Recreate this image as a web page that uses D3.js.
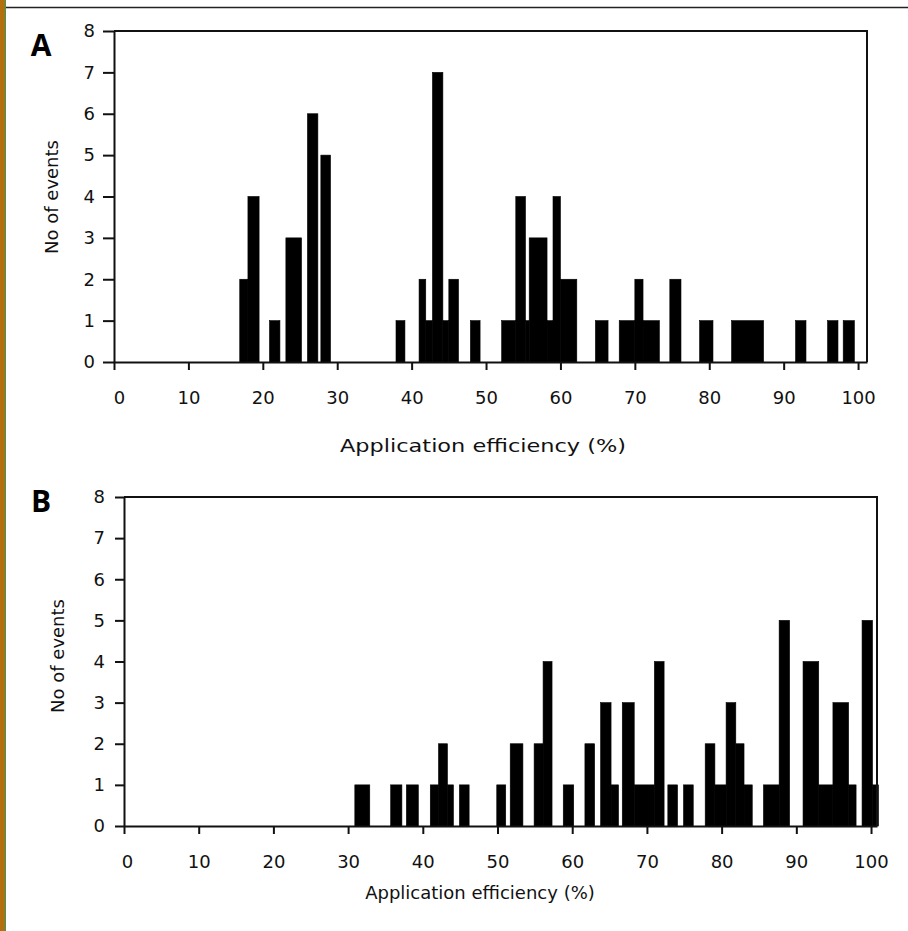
<!DOCTYPE html>
<html>
<head>
<meta charset="utf-8">
<script src="https://cdn.jsdelivr.net/npm/d3@7"></script>
<style>
	body { margin: 0; background: #fff; }
	svg { display: block; }
</style>
</head>
<body>
<div id="figure"></div>
<script>
// Panel A - bins (application efficiency %) and number of events
var binStartA = [16.9, 18.0, 20.9, 23.1, 26.0, 27.8, 37.9, 41.0, 41.9, 42.8, 44.2, 45.0, 47.9, 52.1, 54.0, 55.3, 55.8, 58.2, 59.0, 60.0, 64.7, 67.9, 70.0, 71.1, 74.7, 78.7, 83.0, 91.6, 95.9, 98.0];
var binEndA = [18.0, 19.5, 22.3, 25.2, 27.4, 29.1, 39.1, 41.9, 42.8, 44.2, 45.0, 46.3, 49.2, 54.0, 55.3, 55.8, 58.2, 59.0, 60.0, 62.2, 66.4, 70.0, 71.1, 73.3, 76.2, 80.5, 87.3, 93.0, 97.3, 99.5];
var countA = [2, 4, 1, 3, 6, 5, 1, 2, 1, 7, 1, 2, 1, 1, 4, 1, 3, 1, 4, 2, 1, 1, 2, 1, 2, 1, 1, 1, 1, 1];

// Panel B
var binStartB = [30.9, 35.7, 37.8, 41.0, 42.1, 43.3, 44.9, 49.9, 51.7, 54.9, 56.1, 58.8, 61.7, 63.8, 65.2, 66.7, 68.3, 71.0, 72.8, 74.9, 77.8, 79.1, 80.6, 81.9, 83.0, 85.6, 87.7, 90.9, 93.0, 94.9, 97.0, 98.8, 100.2];
var binEndB = [32.9, 37.2, 39.4, 42.1, 43.3, 44.1, 46.2, 51.1, 53.4, 56.1, 57.3, 60.2, 63.0, 65.2, 66.2, 68.3, 71.0, 72.3, 74.1, 76.2, 79.1, 80.6, 81.9, 83.0, 84.1, 87.7, 89.1, 93.0, 94.9, 97.0, 98.0, 100.2, 101.0];
var countB = [1, 1, 1, 1, 2, 1, 1, 1, 2, 2, 4, 1, 2, 3, 1, 3, 1, 4, 1, 1, 2, 1, 3, 2, 1, 1, 5, 4, 1, 3, 1, 5, 1];

// Tick labels
var xTicks = [0, 10, 20, 30, 40, 50, 60, 70, 80, 90, 100];
var yTicks = [0, 1, 2, 3, 4, 5, 6, 7, 8];
var xTitle = 'Application efficiency (%)';
var yTitle = 'No of events';

function toBins(starts, ends, counts) {
	return starts.map(function(s, i) {
		return { x0: s, x1: ends[i], n: counts[i] };
	});
}

d3.selection.prototype.patternify = function(params) {
	var container = this;
	var selector = params.selector;
	var data = params.data || [ selector ];
	var selection = container.selectAll('.' + selector).data(data);
	selection.exit().remove();
	selection = selection.enter().append(params.tag).merge(selection);
	selection.attr('class', selector);
	return selection;
};

function Chart() {
	// Exposed variables
	var attrs = {
		container: null,
		panelLabel: 'A',
		left: 114,
		top: 31,
		right: 867,
		bottom: 362,
		xMax: 101.2,
		yMax: 8,
		yTickSize: 11,
		yTickPadding: 8,
		xTickSize: 8,
		xTickPadding: 21,
		zeroLabelShift: 5,
		labelPos: [41, 44],
		yTitlePos: [58, 197],
		xTitlePos: [483, 452],
		xTitleWidth: 286, // the scanned panel A text is wider than B
		font: '"DejaVu Sans", Verdana, sans-serif',
		fontSize: 18,
		data: null
	};

	var main = function() {
		var g = attrs.container.patternify({ tag: 'g', selector: 'panel-' + attrs.panelLabel });

		var x = d3.scaleLinear().domain([0, attrs.xMax]).range([attrs.left, attrs.right]);
		var y = d3.scaleLinear().domain([0, attrs.yMax]).range([attrs.bottom, attrs.top]);

		//Bars
		g.patternify({ tag: 'g', selector: 'bars' })
			.selectAll('rect')
			.data(attrs.data)
			.join('rect')
			.attr('x', (d) => x(d.x0))
			.attr('width', (d) => x(d.x1) - x(d.x0))
			.attr('y', (d) => y(d.n))
			.attr('height', (d) => y(0) - y(d.n))
			.attr('fill', '#000')
			.attr('stroke', '#000')
			.attr('stroke-width', 0.6);

		//Frame (top + right)
		g.patternify({ tag: 'path', selector: 'frame' })
			.attr('d', 'M' + attrs.left + ',' + attrs.top + 'H' + attrs.right + 'V' + attrs.bottom)
			.attr('fill', 'none')
			.attr('stroke', '#111')
			.attr('stroke-width', 2);

		//Y axis
		var yAxis = g.patternify({ tag: 'g', selector: 'y-axis' })
			.attr('transform', 'translate(' + attrs.left + ',0)')
			.call(d3.axisLeft(y).tickValues(yTicks).tickSize(attrs.yTickSize).tickSizeOuter(0).tickPadding(attrs.yTickPadding));

		//X axis
		var xAxis = g.patternify({ tag: 'g', selector: 'x-axis' })
			.attr('transform', 'translate(0,' + attrs.bottom + ')')
			.call(d3.axisBottom(x).tickValues(xTicks).tickSize(attrs.xTickSize).tickSizeOuter(0).tickPadding(attrs.xTickPadding));

		[ yAxis, xAxis ].forEach(function(ax) {
			ax.attr('font-family', attrs.font).attr('font-size', attrs.fontSize);
			ax.select('.domain').attr('stroke', '#111').attr('stroke-width', 2);
			ax.selectAll('.tick line').attr('stroke', '#111').attr('stroke-width', 2);
			ax.selectAll('.tick text').attr('fill', '#111');
		});
		xAxis.selectAll('.tick text').attr('dx', (d) => (d === 0 ? attrs.zeroLabelShift : 0));

		//Titles
		var xt = g.patternify({ tag: 'text', selector: 'x-title' })
			.attr('x', attrs.xTitlePos[0])
			.attr('y', attrs.xTitlePos[1])
			.attr('text-anchor', 'middle')
			.attr('font-family', attrs.font)
			.attr('font-size', attrs.fontSize)
			.attr('fill', '#111')
			.text(xTitle);
		if (attrs.xTitleWidth) xt.attr('textLength', attrs.xTitleWidth).attr('lengthAdjust', 'spacingAndGlyphs');

		g.patternify({ tag: 'text', selector: 'y-title' })
			.attr('transform', 'translate(' + attrs.yTitlePos[0] + ',' + attrs.yTitlePos[1] + ') rotate(-90)')
			.attr('text-anchor', 'middle')
			.attr('font-family', attrs.font)
			.attr('font-size', attrs.fontSize)
			.attr('fill', '#111')
			.text(yTitle);

		g.patternify({ tag: 'text', selector: 'panel-label' })
			.attr('x', attrs.labelPos[0])
			.attr('y', attrs.labelPos[1])
			.attr('text-anchor', 'middle')
			.attr('dominant-baseline', 'central')
			.attr('font-family', '"Open Sans", "Noto Sans", sans-serif')
			.attr('font-weight', 'bold')
			.attr('font-size', 30)
			.attr('fill', '#000')
			.text(attrs.panelLabel);
	};

	Object.keys(attrs).forEach(function(key) {
		main[key] = function(_) {
			if (!arguments.length) return attrs[key];
			attrs[key] = _;
			return main;
		};
	});

	main.render = function() {
		main();
		return main;
	};

	return main;
}

var svg = d3.select('#figure')
	.append('svg')
	.attr('width', 908)
	.attr('height', 931);

//Page decorations: left border and top rule
svg.append('rect').attr('x', 0).attr('y', 0).attr('width', 5).attr('height', 931).attr('fill', '#b36f0e');
svg.append('rect').attr('x', 5).attr('y', 0).attr('width', 1).attr('height', 931).attr('fill', '#3a9a5a');
svg.append('line').attr('x1', 6).attr('x2', 908).attr('y1', 7.5).attr('y2', 7.5).attr('stroke', '#222').attr('stroke-width', 1.5);

Chart()
	.container(svg)
	.panelLabel('A')
	.data(toBins(binStartA, binEndA, countA))
	.render();

Chart()
	.container(svg)
	.panelLabel('B')
	.left(124)
	.top(497)
	.right(877)
	.bottom(826)
	.xMax(100.8)
	.yTickSize(9)
	.yTickPadding(10)
	.zeroLabelShift(3)
	.labelPos([41, 500])
	.yTitlePos([64, 656])
	.xTitlePos([480, 899])
	.xTitleWidth(null)
	.data(toBins(binStartB, binEndB, countB))
	.render();
</script>
</body>
</html>
